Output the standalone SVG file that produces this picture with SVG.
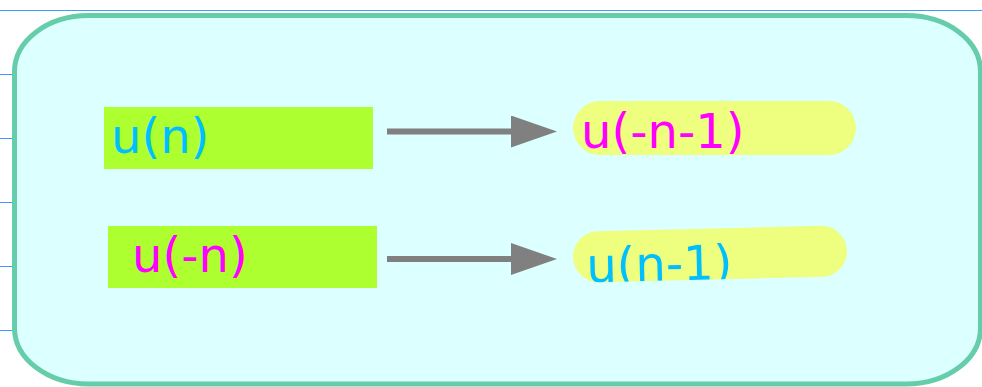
<svg xmlns="http://www.w3.org/2000/svg" width="982" height="387" viewBox="0 0 982 387">
  <style>
    .guide { stroke: #3d9bff; stroke-width: 1; fill: none; shape-rendering: crispEdges; }
    .frame { fill: #dcffff; stroke: #66cdaa; stroke-width: 5; }
    .box { fill: #adff2f; }
    .pill { fill: #eeff80; }
    .lbl { font-family: "DejaVu Sans", "Liberation Sans", sans-serif; font-size: 48px; }
    .blue { fill: #00bfff; }
    .pink { fill: #ff00ff; }
    .link { stroke: #808080; stroke-width: 6; fill: none; }
  </style>
  <defs>
    <marker id="head" markerUnits="userSpaceOnUse" markerWidth="46" markerHeight="32" refX="0" refY="16" orient="auto">
      <path d="M0,0 L46,16 L0,32 Z" fill="#808080"/>
    </marker>
    <clipPath id="clip-b">
      <rect x="573" y="101" width="283" height="54" rx="27" ry="27"/>
    </clipPath>
    <clipPath id="clip-d">
      <rect x="573" y="228.5" width="274" height="51" rx="25.5" ry="25.5"/>
    </clipPath>
  </defs>

  <!-- ruled guide lines behind the panel -->
  <g id="guides">
    <line class="guide" x1="0" y1="10.5" x2="982" y2="10.5"/>
    <line class="guide" x1="0" y1="74.5" x2="14" y2="74.5"/>
    <line class="guide" x1="0" y1="138.5" x2="14" y2="138.5"/>
    <line class="guide" x1="0" y1="202.5" x2="14" y2="202.5"/>
    <line class="guide" x1="0" y1="266.5" x2="14" y2="266.5"/>
    <line class="guide" x1="0" y1="330.5" x2="14" y2="330.5"/>
  </g>

  <!-- container panel -->
  <g id="panel">
    <rect class="frame" x="14.5" y="15.5" width="966" height="368.5" rx="74" ry="56"/>
  </g>

  <!-- connectors -->
  <g id="connectors">
    <line class="link" x1="387" y1="131.5" x2="511" y2="131.5" marker-end="url(#head)"/>
    <line class="link" x1="387" y1="259" x2="511" y2="259" marker-end="url(#head)"/>
  </g>

  <g id="node-un">
    <rect class="box" x="104" y="107" width="269" height="62"/>
    <text class="lbl blue" x="111" y="152.5">u(n)</text>
  </g>

  <g id="node-u-neg-n-minus-1">
    <rect class="pill" x="573" y="101" width="283" height="54" rx="27" ry="27"/>
    <text class="lbl pink" x="581" y="148" clip-path="url(#clip-b)">u(-n-1)</text>
  </g>

  <g id="node-u-neg-n">
    <rect class="box" x="108" y="226" width="269" height="62"/>
    <text class="lbl pink" x="132" y="271.5">u(-n)</text>
  </g>

  <g id="node-u-n-minus-1" transform="rotate(-1.36 710 254)">
    <rect class="pill" x="573" y="228.5" width="274" height="51" rx="25.5" ry="25.5"/>
    <text class="lbl blue" x="586" y="279.5" clip-path="url(#clip-d)">u(n-1)</text>
  </g>
</svg>
